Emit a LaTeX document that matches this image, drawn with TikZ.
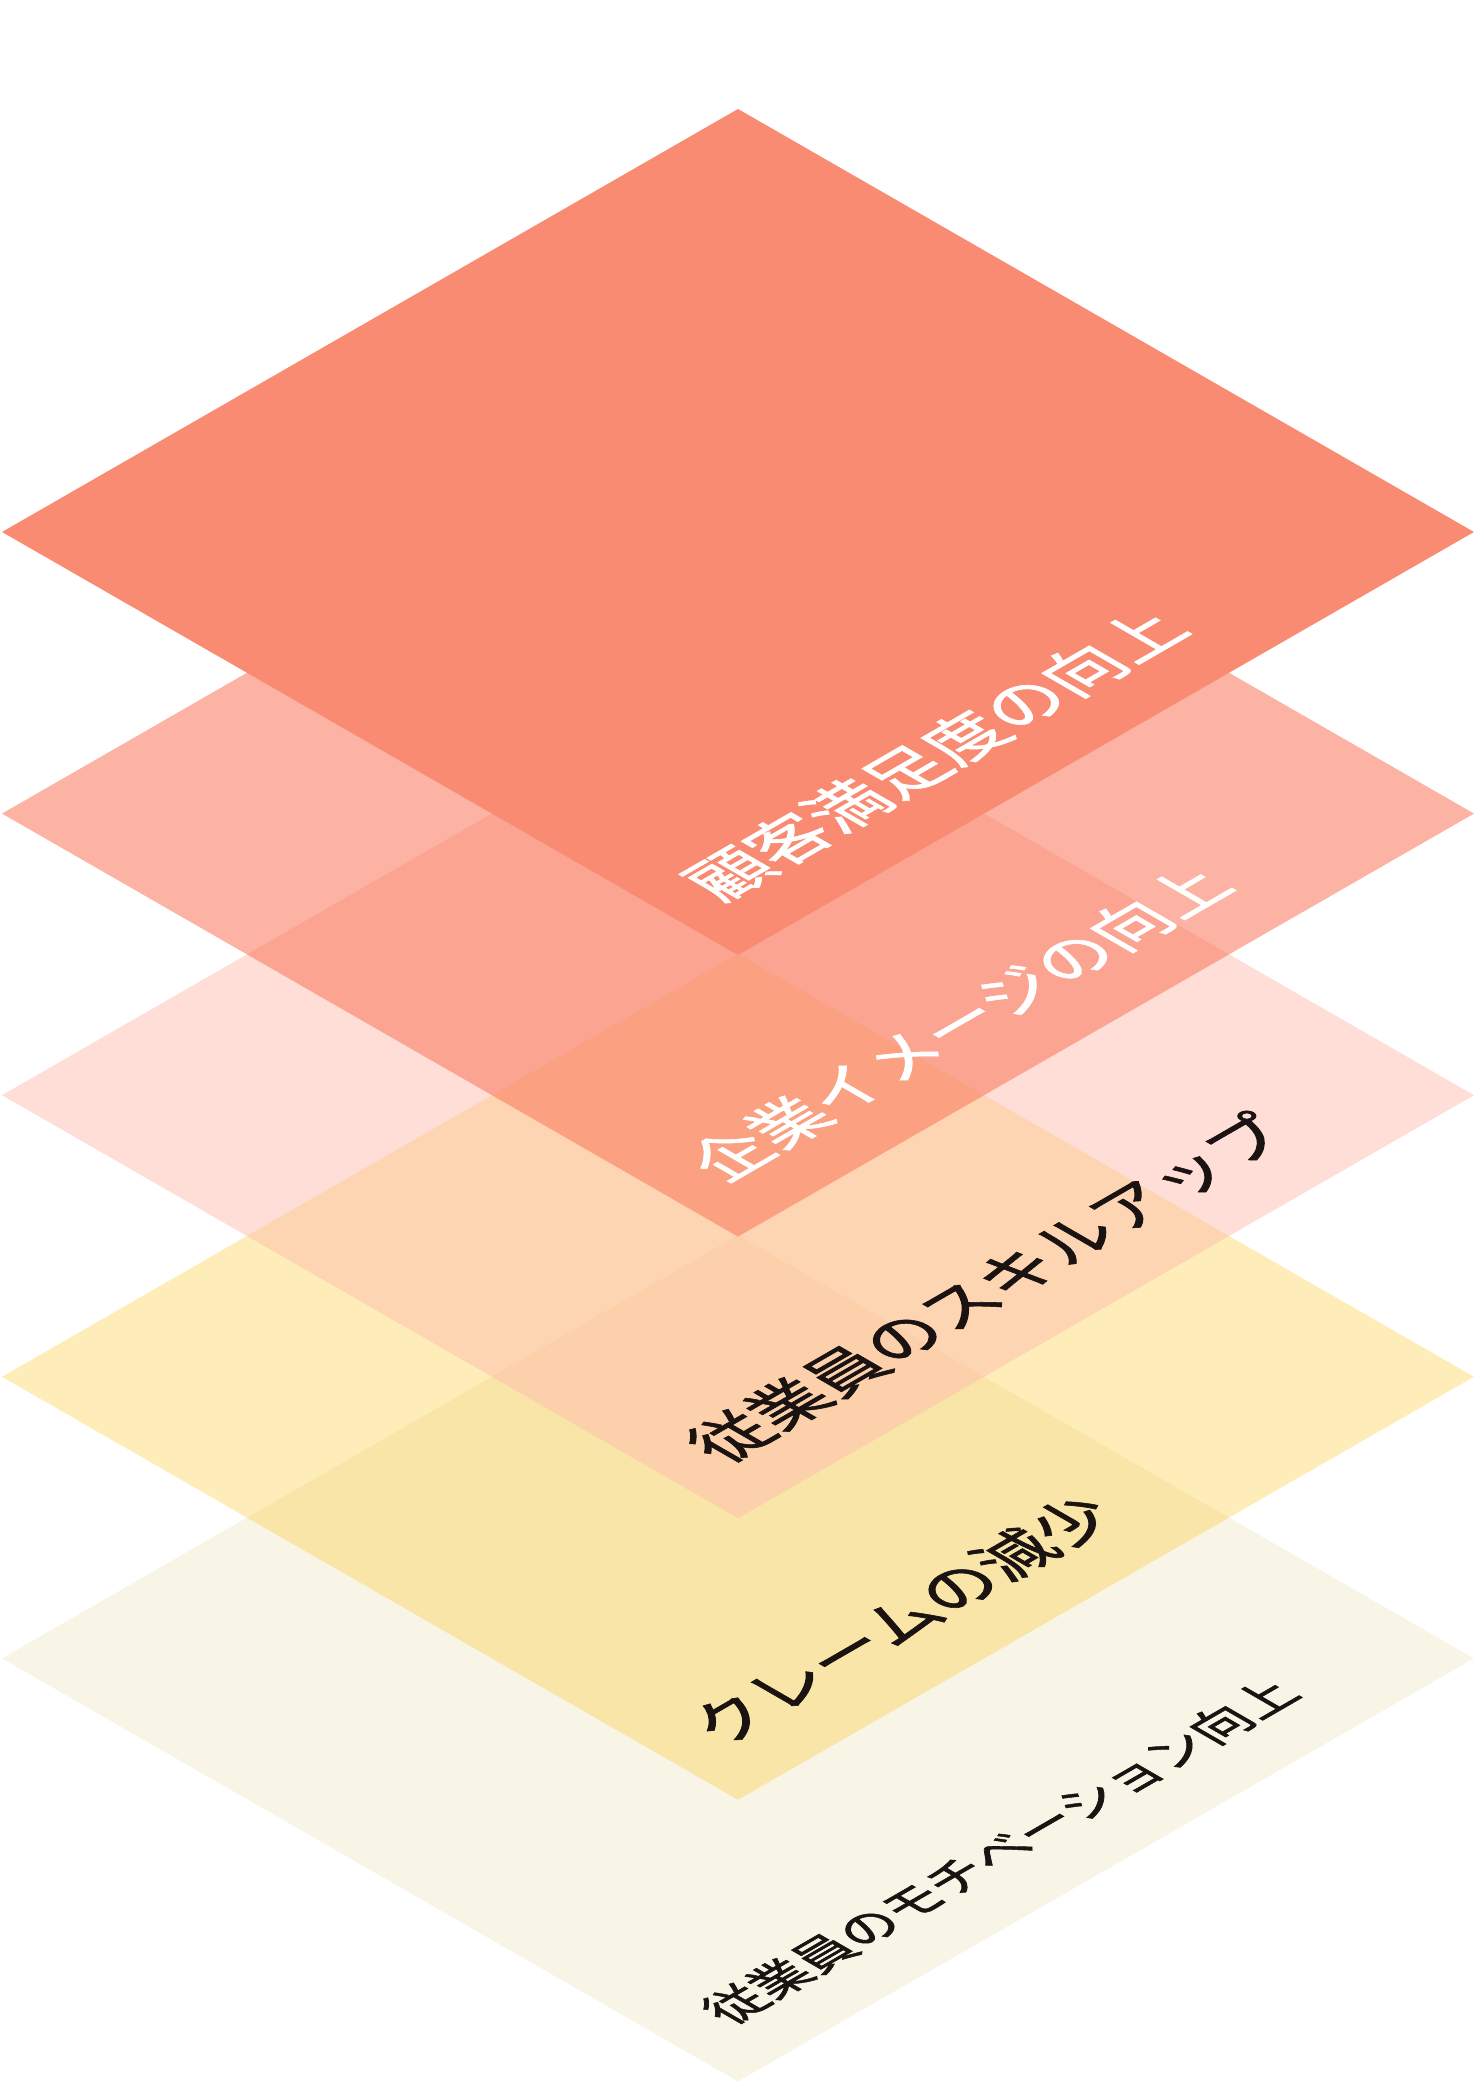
\documentclass[tikz,border=0pt]{standalone}
\usepackage{fontspec}
\newfontfamily\jp[FakeBold=1.2]{Noto Sans CJK JP}
\definecolor{lone}{HTML}{F98B73}
\definecolor{ltwo}{HTML}{FA775B}
\definecolor{lthree}{HTML}{FDBDAD}
\definecolor{lfour}{HTML}{FCC724}
\definecolor{lfive}{HTML}{F8F4E6}
\definecolor{ink}{HTML}{1A1311}
\begin{document}
\begin{tikzpicture}[x=0.5pt,y=0.5pt,
  lab/.style={anchor=south west,inner sep=0pt,transform shape},
  hugetxt/.style={font=\jp\fontsize{34}{34}\selectfont},
  bigtxt/.style={font=\jp\fontsize{33}{33}\selectfont},
  smalltxt/.style={font=\jp\fontsize{25.5}{25.5}\selectfont}]
\useasboundingbox (0,0) rectangle (1475,2100);
% layer 5
\fill[lfive] (2,441.6) -- (738,864.6) -- (1474,441.6) -- (738,18.6) -- cycle;
% layer 4
\fill[lfour,fill opacity=0.32] (2,723.2) -- (738,1146.2) -- (1474,723.2) -- (738,300.2) -- cycle;
% layer 3
\fill[lthree,fill opacity=0.5] (2,1004.8) -- (738,1427.8) -- (1474,1004.8) -- (738,581.8) -- cycle;
% layer 2
\fill[ltwo,fill opacity=0.56] (2,1286.4) -- (738,1709.4) -- (1474,1286.4) -- (738,863.4) -- cycle;
% layer 1
\fill[lone] (2,1568) -- (738,1991) -- (1474,1568) -- (738,1145) -- cycle;
% labels
\begin{scope}[shift={(738,1145)},cm={0.866,0.5,-0.866,0.5,(0,0)}]
  \node[lab,hugetxt,text=white] (t1) at (42,55) {顧客満足度の向上};
\end{scope}
\begin{scope}[shift={(738,863.4)},cm={0.866,0.5,-0.866,0.5,(0,0)}]
  \node[lab,bigtxt,text=white] (t2) at (44,55) {企業イメージの向上};
\end{scope}
\begin{scope}[shift={(738,581.8)},cm={0.866,0.5,-0.866,0.5,(0,0)}]
  \node[lab,bigtxt,text=ink] (t3) at (44,55) {従業員のスキルアップ};
\end{scope}
\begin{scope}[shift={(738,300.2)},cm={0.866,0.5,-0.866,0.5,(0,0)}]
  \node[lab,bigtxt,text=ink] (t4) at (44,55) {クレームの減少};
\end{scope}
\begin{scope}[shift={(738,18.6)},cm={0.866,0.5,-0.866,0.5,(0,0)}]
  \node[lab,smalltxt,text=ink] (t5) at (50,55) {従業員のモチベーション向上};
\end{scope}
\end{tikzpicture}
\end{document}
